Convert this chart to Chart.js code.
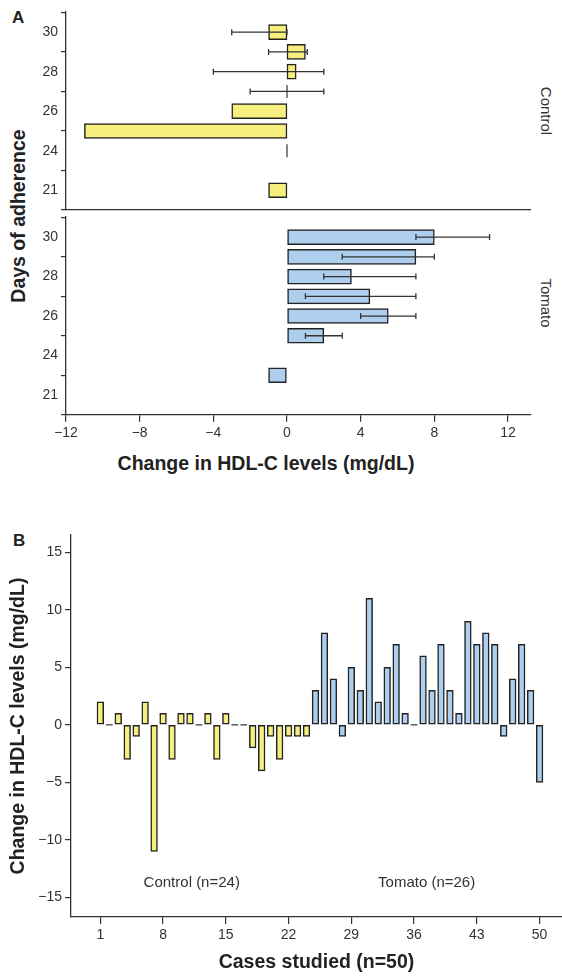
<!DOCTYPE html>
<html lang="en">
<head>
<meta charset="UTF-8">
<script src="https://cdn.jsdelivr.net/npm/chart.js@4"></script>
<title>HDL-C</title>
<style>
    body { margin: 0; width: 562px; height: 977px; position: relative; background: #fff; overflow: hidden;
           font-family: "Liberation Sans", Arial, sans-serif; color: #333; }
    canvas { position: absolute; left: 0; }
    .lbl { position: absolute; white-space: nowrap; line-height: 1; }
    .pannello { font-weight: bold; font-size: 17px; color: #222; }
    .titolo { font-weight: bold; font-size: 19.5px; color: #222; transform: translate(-50%, -50%); }
    .gruppo { font-size: 15px; transform: translate(-50%, -50%) rotate(90deg); }
</style>
</head>
<body>
    <div class="lbl pannello" style="left:12px;top:9px">A</div>
    <div class="lbl titolo" style="left:19px;top:216px;transform:translate(-50%,-50%) rotate(-90deg)">Days of adherence</div>
    <div class="lbl gruppo" style="left:546px;top:111px">Control</div>
    <div class="lbl gruppo" style="left:546px;top:303px">Tomato</div>
    <div class="lbl titolo" style="left:266px;top:464px">Change in HDL-C levels (mg/dL)</div>
    <div class="lbl pannello" style="left:13px;top:532px">B</div>

    <canvas id="graficoA1" width="562" height="225" style="top:0"></canvas>
    <canvas id="graficoA2" width="562" height="245" style="top:205px"></canvas>
    <canvas id="graficoB" width="562" height="487" style="top:490px"></canvas>
</body>

<script>
    // Panel A: rows from bottom (21) to top (30)
    var giorni = ['21', '22', '24', '25', '26', '27', '28', '29', '30'];
    var giorniMostrati = ['21', '24', '26', '28', '30'];
    var controlMedia = [-1, null, 0, -11, -3, 0, 0.5, 1, -1];
    var controlErrMin = [null, null, null, null, null, -2, -4, -1, -3];
    var controlErrMax = [null, null, null, null, null, 2, 2, 1.1, 0];
    var tomatoMedia = [null, -1, null, 2, 5.5, 4.5, 3.5, 7, 8];
    var tomatoErrMin = [null, null, null, 1, 4, 1, 2, 3, 7];
    var tomatoErrMax = [null, null, null, 3, 7, 7, 7, 8, 11];
    var ticksA = [-12, -8, -4, 0, 4, 8, 12];

    // Panel B: single cases
    var casiControl = [1, 2, 3, 4, 5, 6, 7, 8, 9, 10, 11, 12, 13, 14, 15, 16, 17, 18, 19, 20, 21, 22, 23, 24];
    var valoriControl = [2, 0, 1, -3, -1, 2, -11, 1, -3, 1, 1, 0, 1, -3, 1, 0, 0, -2, -4, -1, -3, -1, -1, -1];
    var casiTomato = [25, 26, 27, 28, 29, 30, 31, 32, 33, 34, 35, 36, 37, 38, 39, 40, 41, 42, 43, 44, 45, 46, 47, 48, 49, 50];
    var valoriTomato = [3, 8, 4, -1, 5, 3, 11, 2, 5, 7, 1, 0, 6, 3, 7, 3, 1, 9, 7, 8, 7, -1, 4, 7, 3, -5];
    var ticksBx = [1, 8, 15, 22, 29, 36, 43, 50];
    var ticksBy = [-15, -10, -5, 0, 5, 10, 15];
    var gruppiTesto = ['Control (n=24)', 'Tomato (n=26)'];

    var giallo = '#F6EE7D';
    var azzurro = '#ADCEED';
    var bordo = '#222';
    var font = 'Liberation Sans, Arial, sans-serif';

    function meno(v) {
        return v < 0 ? '\u2212' + Math.abs(v) : '' + v;
    }

    function punti(valori) {
        var out = [];
        valori.forEach(function(v, i) {
            if (v !== null) out.push({x: v, y: i});
        });
        return out;
    }

    function puntiB(casi, valori) {
        return casi.map(function(c, i) { return {x: c, y: valori[i]}; });
    }

    // zero values: short line instead of an invisible bar
    var segniZero = {
        id: 'segniZero',
        afterDatasetsDraw: function(chart) {
            var ctx = chart.ctx;
            ctx.save();
            ctx.strokeStyle = '#333';
            ctx.lineWidth = 1.2;
            chart.data.datasets.forEach(function(ds, i) {
                chart.getDatasetMeta(i).data.forEach(function(el, j) {
                    var p = ds.data[j];
                    var v = el.horizontal ? p.x : p.y;
                    if (v !== 0) return;
                    ctx.beginPath();
                    if (el.horizontal) {
                        ctx.moveTo(el.x, el.y - el.height / 2 + 1);
                        ctx.lineTo(el.x, el.y + el.height / 2 - 1);
                    } else {
                        ctx.moveTo(el.x - el.width / 2, el.y);
                        ctx.lineTo(el.x + el.width / 2, el.y);
                    }
                    ctx.stroke();
                });
            });
            ctx.restore();
        }
    };

    var barreErrore = {
        id: 'barreErrore',
        afterDatasetsDraw: function(chart) {
            var ctx = chart.ctx, sx = chart.scales.x, sy = chart.scales.y;
            ctx.save();
            ctx.strokeStyle = '#333';
            ctx.lineWidth = 1.3;
            chart.data.datasets.forEach(function(ds) {
                (ds.errMin || []).forEach(function(lo, j) {
                    var hi = ds.errMax[j];
                    if (lo === null || hi === null) return;
                    var y = sy.getPixelForValue(j);
                    var x1 = sx.getPixelForValue(lo), x2 = sx.getPixelForValue(hi);
                    ctx.beginPath();
                    ctx.moveTo(x1, y); ctx.lineTo(x2, y);
                    ctx.moveTo(x1, y - 3); ctx.lineTo(x1, y + 3);
                    ctx.moveTo(x2, y - 3); ctx.lineTo(x2, y + 3);
                    ctx.stroke();
                });
            });
            ctx.restore();
        }
    };

    var etichetteGruppi = {
        id: 'etichetteGruppi',
        afterDraw: function(chart) {
            var ctx = chart.ctx, sx = chart.scales.x, sy = chart.scales.y;
            var posX = [11.2, 37.4];
            ctx.save();
            ctx.font = '15px ' + font;
            ctx.fillStyle = '#333';
            ctx.textAlign = 'center';
            ctx.textBaseline = 'middle';
            gruppiTesto.forEach(function(t, i) {
                ctx.fillText(t, sx.getPixelForValue(posX[i]), sy.getPixelForValue(-13.7));
            });
            ctx.restore();
        }
    };

    function graficoA(id, valori, errMin, errMax, colore, conAsseX, padTop, altezzaX) {
        var config = {
            type: 'bar',
            data: {
                datasets: [{
                    data: punti(valori),
                    errMin: errMin,
                    errMax: errMax,
                    backgroundColor: colore,
                    borderColor: bordo,
                    borderWidth: 1.5,
                    borderSkipped: false,
                    barThickness: 15
                }]
            },
            options: {
                indexAxis: 'y',
                responsive: false,
                animation: false,
                layout: { padding: { top: padTop, right: 31, bottom: 0, left: 0 } },
                plugins: { legend: { display: false }, tooltip: { enabled: false } },
                scales: {
                    x: {
                        type: 'linear',
                        min: -12,
                        max: 13.25,
                        afterBuildTicks: function(s) { s.ticks = ticksA.map(function(v) { return {value: v}; }); },
                        ticks: {
                            display: conAsseX,
                            color: '#333',
                            padding: 3,
                            maxRotation: 0,
                            font: { family: font, size: 14 },
                            callback: function(v) { return meno(v); }
                        },
                        grid: { display: conAsseX, drawOnChartArea: false, tickLength: 7, color: '#333', lineWidth: 1.2 },
                        border: { color: '#333', width: 1.3 },
                        afterFit: function(s) { s.height = altezzaX; }
                    },
                    y: {
                        type: 'linear',
                        min: -1,
                        max: 9.05,
                        offset: false,
                        afterBuildTicks: function(s) {
                            s.ticks = giorniMostrati.map(function(g) { return {value: giorni.indexOf(g)}; });
                        },
                        ticks: {
                            color: '#333',
                            padding: 3,
                            font: { family: font, size: 14 },
                            callback: function(v) { return giorni[v]; }
                        },
                        grid: { drawOnChartArea: false, tickLength: 5, color: '#333', lineWidth: 1.2 },
                        border: { color: '#333', width: 1.3 },
                        afterFit: function(s) { s.width = 66; }
                    }
                }
            },
            plugins: [segniZero, barreErrore]
        };
        return new Chart(id, config);
    }

    graficoA('graficoA1', controlMedia, controlErrMin, controlErrMax, giallo, false, 11, 15);
    graficoA('graficoA2', tomatoMedia, tomatoErrMin, tomatoErrMax, azzurro, true, 10, 35.3);

    new Chart('graficoB', {
        type: 'bar',
        data: {
            datasets: [
                { label: 'Control', data: puntiB(casiControl, valoriControl), backgroundColor: giallo },
                { label: 'Tomato', data: puntiB(casiTomato, valoriTomato), backgroundColor: azzurro }
            ]
        },
        options: {
            responsive: false,
            animation: false,
            grouped: false,
            datasets: { bar: { borderColor: bordo, borderWidth: 1.5, borderSkipped: false, barThickness: 6.7 } },
            layout: { padding: { top: 45, right: 0, bottom: 0, left: 0 } },
            plugins: { legend: { display: false }, tooltip: { enabled: false } },
            scales: {
                x: {
                    type: 'linear',
                    min: -2.27,
                    max: 52.5,
                    offset: false,
                    afterBuildTicks: function(s) { s.ticks = ticksBx.map(function(v) { return {value: v}; }); },
                    ticks: { color: '#333', padding: 3, maxRotation: 0, font: { family: font, size: 14 } },
                    grid: { drawOnChartArea: false, offset: false, tickLength: 7, color: '#333', lineWidth: 1.2 },
                    border: { color: '#333', width: 1.3 },
                    title: {
                        display: true,
                        text: 'Cases studied (n=50)',
                        color: '#222',
                        font: { family: font, size: 19.5, weight: 'bold' },
                        padding: { top: 0, bottom: 2.3 }
                    },
                    afterFit: function(s) { s.height = 60; }
                },
                y: {
                    min: -16.7,
                    max: 16.5,
                    afterBuildTicks: function(s) { s.ticks = ticksBy.map(function(v) { return {value: v}; }); },
                    ticks: {
                        color: '#333',
                        padding: 3,
                        font: { family: font, size: 14 },
                        callback: function(v) { return meno(v); }
                    },
                    grid: { drawOnChartArea: false, tickLength: 6, color: '#333', lineWidth: 1.2 },
                    border: { color: '#333', width: 1.3 },
                    title: {
                        display: true,
                        text: 'Change in HDL-C levels (mg/dL)',
                        color: '#222',
                        font: { family: font, size: 19.5, weight: 'bold' },
                        padding: { top: 6.6, bottom: 0 }
                    },
                    afterFit: function(s) { s.width = 71; }
                }
            }
        },
        plugins: [segniZero, etichetteGruppi]
    });
</script>

</html>
